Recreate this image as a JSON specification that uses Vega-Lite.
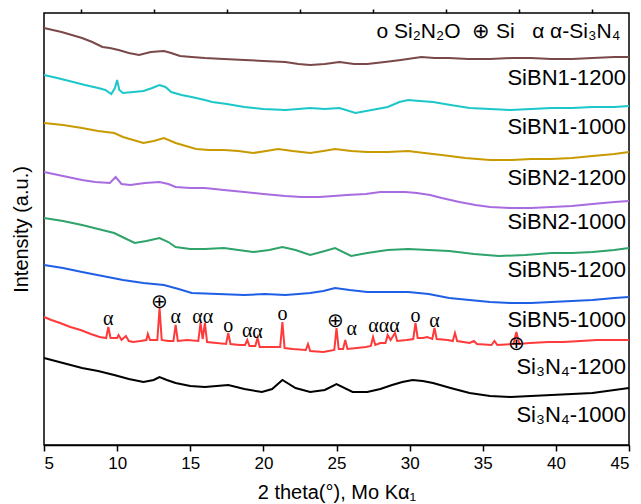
{
"$schema": "https://vega.github.io/schema/vega-lite/v6.json",
"width": 585, "height": 432,
"autosize": "none",
"padding": {"left": 44, "top": 13, "right": 12, "bottom": 59},
"background": "white",
"config": {"view": {"stroke": "black", "strokeWidth": 1.5}, "font": "Liberation Sans"},
"datasets": {
"curves": [
{"s":"SiBN1-1200","x":5.0,"y":422},{"s":"SiBN1-1200","x":5.6,"y":420},{"s":"SiBN1-1200","x":6.2,"y":418},{"s":"SiBN1-1200","x":6.9,"y":415},{"s":"SiBN1-1200","x":7.6,"y":412},{"s":"SiBN1-1200","x":8.3,"y":408},{"s":"SiBN1-1200","x":9.0,"y":403},{"s":"SiBN1-1200","x":9.5,"y":402},{"s":"SiBN1-1200","x":10.1,"y":400},{"s":"SiBN1-1200","x":10.8,"y":397},{"s":"SiBN1-1200","x":11.5,"y":395},{"s":"SiBN1-1200","x":12.3,"y":398},{"s":"SiBN1-1200","x":13.2,"y":399},{"s":"SiBN1-1200","x":13.7,"y":397},{"s":"SiBN1-1200","x":14.3,"y":394},{"s":"SiBN1-1200","x":15.1,"y":393},{"s":"SiBN1-1200","x":16.0,"y":392},{"s":"SiBN1-1200","x":17.3,"y":391},{"s":"SiBN1-1200","x":18.7,"y":390},{"s":"SiBN1-1200","x":20.0,"y":389},{"s":"SiBN1-1200","x":21.5,"y":388},{"s":"SiBN1-1200","x":22.4,"y":386},{"s":"SiBN1-1200","x":23.2,"y":385},{"s":"SiBN1-1200","x":24.2,"y":386},{"s":"SiBN1-1200","x":25.2,"y":388},{"s":"SiBN1-1200","x":26.2,"y":386},{"s":"SiBN1-1200","x":27.1,"y":386},{"s":"SiBN1-1200","x":28.3,"y":388},{"s":"SiBN1-1200","x":29.4,"y":390},{"s":"SiBN1-1200","x":30.8,"y":393},{"s":"SiBN1-1200","x":31.7,"y":392},{"s":"SiBN1-1200","x":32.7,"y":392},{"s":"SiBN1-1200","x":34.0,"y":391},{"s":"SiBN1-1200","x":35.5,"y":391},{"s":"SiBN1-1200","x":37.0,"y":392},{"s":"SiBN1-1200","x":38.3,"y":392},{"s":"SiBN1-1200","x":39.7,"y":391},{"s":"SiBN1-1200","x":41.1,"y":391},{"s":"SiBN1-1200","x":42.5,"y":392},{"s":"SiBN1-1200","x":44.0,"y":393},{"s":"SiBN1-1200","x":45.0,"y":393},
{"s":"SiBN1-1000","x":5.0,"y":375},{"s":"SiBN1-1000","x":5.9,"y":372},{"s":"SiBN1-1000","x":7.0,"y":368},{"s":"SiBN1-1000","x":7.8,"y":365},{"s":"SiBN1-1000","x":8.7,"y":362},{"s":"SiBN1-1000","x":9.2,"y":360},{"s":"SiBN1-1000","x":9.6,"y":356},{"s":"SiBN1-1000","x":9.85,"y":362},{"s":"SiBN1-1000","x":10.0,"y":370},{"s":"SiBN1-1000","x":10.15,"y":360},{"s":"SiBN1-1000","x":10.4,"y":357},{"s":"SiBN1-1000","x":11.1,"y":358},{"s":"SiBN1-1000","x":11.8,"y":359},{"s":"SiBN1-1000","x":12.4,"y":362},{"s":"SiBN1-1000","x":12.9,"y":365},{"s":"SiBN1-1000","x":13.3,"y":363},{"s":"SiBN1-1000","x":13.7,"y":358},{"s":"SiBN1-1000","x":14.4,"y":355},{"s":"SiBN1-1000","x":15.1,"y":353},{"s":"SiBN1-1000","x":16.0,"y":350},{"s":"SiBN1-1000","x":16.5,"y":348},{"s":"SiBN1-1000","x":17.5,"y":346},{"s":"SiBN1-1000","x":18.7,"y":343},{"s":"SiBN1-1000","x":20.0,"y":341},{"s":"SiBN1-1000","x":21.5,"y":340},{"s":"SiBN1-1000","x":22.4,"y":341},{"s":"SiBN1-1000","x":23.2,"y":342},{"s":"SiBN1-1000","x":24.2,"y":341},{"s":"SiBN1-1000","x":25.2,"y":342},{"s":"SiBN1-1000","x":26.3,"y":337},{"s":"SiBN1-1000","x":27.4,"y":340},{"s":"SiBN1-1000","x":28.5,"y":343},{"s":"SiBN1-1000","x":29.3,"y":348},{"s":"SiBN1-1000","x":29.9,"y":350},{"s":"SiBN1-1000","x":30.7,"y":349},{"s":"SiBN1-1000","x":31.6,"y":348},{"s":"SiBN1-1000","x":32.8,"y":345},{"s":"SiBN1-1000","x":34.1,"y":342},{"s":"SiBN1-1000","x":35.5,"y":341},{"s":"SiBN1-1000","x":36.9,"y":340},{"s":"SiBN1-1000","x":38.3,"y":341},{"s":"SiBN1-1000","x":39.7,"y":342},{"s":"SiBN1-1000","x":41.1,"y":342},{"s":"SiBN1-1000","x":42.5,"y":343},{"s":"SiBN1-1000","x":44.0,"y":343},{"s":"SiBN1-1000","x":45.0,"y":344},
{"s":"SiBN2-1200","x":5.0,"y":327},{"s":"SiBN2-1200","x":6.3,"y":325},{"s":"SiBN2-1200","x":7.6,"y":322},{"s":"SiBN2-1200","x":8.7,"y":319},{"s":"SiBN2-1200","x":9.8,"y":317},{"s":"SiBN2-1200","x":10.4,"y":313},{"s":"SiBN2-1200","x":11.1,"y":310},{"s":"SiBN2-1200","x":11.8,"y":307},{"s":"SiBN2-1200","x":12.5,"y":309},{"s":"SiBN2-1200","x":13.2,"y":312},{"s":"SiBN2-1200","x":14.0,"y":307},{"s":"SiBN2-1200","x":14.7,"y":304},{"s":"SiBN2-1200","x":15.4,"y":301},{"s":"SiBN2-1200","x":16.3,"y":300},{"s":"SiBN2-1200","x":17.3,"y":300},{"s":"SiBN2-1200","x":18.3,"y":299},{"s":"SiBN2-1200","x":19.3,"y":297},{"s":"SiBN2-1200","x":20.2,"y":299},{"s":"SiBN2-1200","x":21.0,"y":301},{"s":"SiBN2-1200","x":22.0,"y":299},{"s":"SiBN2-1200","x":23.2,"y":297},{"s":"SiBN2-1200","x":24.1,"y":299},{"s":"SiBN2-1200","x":24.9,"y":301},{"s":"SiBN2-1200","x":26.0,"y":299},{"s":"SiBN2-1200","x":27.1,"y":298},{"s":"SiBN2-1200","x":28.5,"y":298},{"s":"SiBN2-1200","x":29.9,"y":299},{"s":"SiBN2-1200","x":31.0,"y":297},{"s":"SiBN2-1200","x":32.2,"y":295},{"s":"SiBN2-1200","x":33.8,"y":292},{"s":"SiBN2-1200","x":35.5,"y":290},{"s":"SiBN2-1200","x":37.0,"y":290},{"s":"SiBN2-1200","x":38.3,"y":291},{"s":"SiBN2-1200","x":39.7,"y":291},{"s":"SiBN2-1200","x":41.1,"y":292},{"s":"SiBN2-1200","x":42.5,"y":294},{"s":"SiBN2-1200","x":44.0,"y":296},{"s":"SiBN2-1200","x":45.0,"y":298},
{"s":"SiBN2-1000","x":5.0,"y":278},{"s":"SiBN2-1000","x":6.3,"y":274},{"s":"SiBN2-1000","x":7.6,"y":270},{"s":"SiBN2-1000","x":8.5,"y":268},{"s":"SiBN2-1000","x":9.5,"y":267},{"s":"SiBN2-1000","x":9.9,"y":273},{"s":"SiBN2-1000","x":10.3,"y":266},{"s":"SiBN2-1000","x":10.9,"y":265},{"s":"SiBN2-1000","x":11.9,"y":267},{"s":"SiBN2-1000","x":12.9,"y":268},{"s":"SiBN2-1000","x":13.5,"y":266},{"s":"SiBN2-1000","x":14.0,"y":263},{"s":"SiBN2-1000","x":15.0,"y":262},{"s":"SiBN2-1000","x":16.0,"y":262},{"s":"SiBN2-1000","x":17.3,"y":260},{"s":"SiBN2-1000","x":18.7,"y":258},{"s":"SiBN2-1000","x":20.0,"y":256},{"s":"SiBN2-1000","x":21.5,"y":254},{"s":"SiBN2-1000","x":22.6,"y":253},{"s":"SiBN2-1000","x":23.8,"y":253},{"s":"SiBN2-1000","x":24.8,"y":254},{"s":"SiBN2-1000","x":25.7,"y":255},{"s":"SiBN2-1000","x":27.0,"y":256},{"s":"SiBN2-1000","x":28.0,"y":258},{"s":"SiBN2-1000","x":28.8,"y":258},{"s":"SiBN2-1000","x":29.7,"y":258},{"s":"SiBN2-1000","x":30.5,"y":257},{"s":"SiBN2-1000","x":31.4,"y":255},{"s":"SiBN2-1000","x":32.2,"y":252},{"s":"SiBN2-1000","x":33.4,"y":248},{"s":"SiBN2-1000","x":34.5,"y":245},{"s":"SiBN2-1000","x":35.5,"y":243},{"s":"SiBN2-1000","x":36.9,"y":242},{"s":"SiBN2-1000","x":38.3,"y":242},{"s":"SiBN2-1000","x":39.7,"y":243},{"s":"SiBN2-1000","x":41.1,"y":244},{"s":"SiBN2-1000","x":42.5,"y":246},{"s":"SiBN2-1000","x":44.0,"y":248},{"s":"SiBN2-1000","x":45.0,"y":249},
{"s":"SiBN5-1200","x":5.0,"y":232},{"s":"SiBN5-1200","x":6.3,"y":229},{"s":"SiBN5-1200","x":7.6,"y":225},{"s":"SiBN5-1200","x":8.7,"y":221},{"s":"SiBN5-1200","x":9.8,"y":217},{"s":"SiBN5-1200","x":10.5,"y":212},{"s":"SiBN5-1200","x":11.2,"y":207},{"s":"SiBN5-1200","x":12.0,"y":209},{"s":"SiBN5-1200","x":12.9,"y":212},{"s":"SiBN5-1200","x":13.5,"y":208},{"s":"SiBN5-1200","x":14.0,"y":203},{"s":"SiBN5-1200","x":15.0,"y":201},{"s":"SiBN5-1200","x":16.0,"y":201},{"s":"SiBN5-1200","x":17.3,"y":202},{"s":"SiBN5-1200","x":18.3,"y":200},{"s":"SiBN5-1200","x":19.3,"y":198},{"s":"SiBN5-1200","x":20.4,"y":200},{"s":"SiBN5-1200","x":21.3,"y":203},{"s":"SiBN5-1200","x":22.2,"y":200},{"s":"SiBN5-1200","x":23.2,"y":195},{"s":"SiBN5-1200","x":24.2,"y":199},{"s":"SiBN5-1200","x":24.9,"y":202},{"s":"SiBN5-1200","x":26.0,"y":194},{"s":"SiBN5-1200","x":27.1,"y":197},{"s":"SiBN5-1200","x":28.5,"y":200},{"s":"SiBN5-1200","x":29.9,"y":201},{"s":"SiBN5-1200","x":31.3,"y":200},{"s":"SiBN5-1200","x":32.7,"y":199},{"s":"SiBN5-1200","x":34.4,"y":196},{"s":"SiBN5-1200","x":36.1,"y":194},{"s":"SiBN5-1200","x":37.9,"y":195},{"s":"SiBN5-1200","x":39.7,"y":197},{"s":"SiBN5-1200","x":41.1,"y":197},{"s":"SiBN5-1200","x":42.5,"y":198},{"s":"SiBN5-1200","x":44.0,"y":200},{"s":"SiBN5-1200","x":45.0,"y":202},
{"s":"SiBN5-1000","x":5.0,"y":185},{"s":"SiBN5-1000","x":6.3,"y":182},{"s":"SiBN5-1000","x":7.6,"y":178},{"s":"SiBN5-1000","x":9.0,"y":174},{"s":"SiBN5-1000","x":10.4,"y":170},{"s":"SiBN5-1000","x":11.8,"y":167},{"s":"SiBN5-1000","x":13.2,"y":165},{"s":"SiBN5-1000","x":14.2,"y":161},{"s":"SiBN5-1000","x":15.1,"y":157},{"s":"SiBN5-1000","x":16.9,"y":156},{"s":"SiBN5-1000","x":18.7,"y":155},{"s":"SiBN5-1000","x":20.1,"y":156},{"s":"SiBN5-1000","x":21.5,"y":155},{"s":"SiBN5-1000","x":22.4,"y":156},{"s":"SiBN5-1000","x":23.2,"y":157},{"s":"SiBN5-1000","x":24.1,"y":159},{"s":"SiBN5-1000","x":24.9,"y":162},{"s":"SiBN5-1000","x":25.9,"y":160},{"s":"SiBN5-1000","x":27.1,"y":158},{"s":"SiBN5-1000","x":28.5,"y":158},{"s":"SiBN5-1000","x":29.9,"y":158},{"s":"SiBN5-1000","x":31.3,"y":156},{"s":"SiBN5-1000","x":32.7,"y":152},{"s":"SiBN5-1000","x":34.1,"y":150},{"s":"SiBN5-1000","x":35.5,"y":148},{"s":"SiBN5-1000","x":36.9,"y":147},{"s":"SiBN5-1000","x":38.3,"y":147},{"s":"SiBN5-1000","x":39.7,"y":148},{"s":"SiBN5-1000","x":41.1,"y":149},{"s":"SiBN5-1000","x":42.5,"y":150},{"s":"SiBN5-1000","x":44.0,"y":152},{"s":"SiBN5-1000","x":45.0,"y":153},
{"s":"Si3N4-1200","x":5.0,"y":133},{"s":"Si3N4-1200","x":5.5,"y":130},{"s":"Si3N4-1200","x":6.1,"y":127},{"s":"Si3N4-1200","x":6.8,"y":123},{"s":"Si3N4-1200","x":7.5,"y":120},{"s":"Si3N4-1200","x":8.2,"y":116},{"s":"Si3N4-1200","x":8.8,"y":113},{"s":"Si3N4-1200","x":9.25,"y":112},{"s":"Si3N4-1200","x":9.4,"y":123},{"s":"Si3N4-1200","x":9.55,"y":112},{"s":"Si3N4-1200","x":10.0,"y":112},{"s":"Si3N4-1200","x":10.1,"y":115},{"s":"Si3N4-1200","x":10.3,"y":110},{"s":"Si3N4-1200","x":10.6,"y":114},{"s":"Si3N4-1200","x":10.8,"y":109},{"s":"Si3N4-1200","x":11.1,"y":108},{"s":"Si3N4-1200","x":11.6,"y":109},{"s":"Si3N4-1200","x":12.0,"y":110},{"s":"Si3N4-1200","x":12.1,"y":116},{"s":"Si3N4-1200","x":12.25,"y":110},{"s":"Si3N4-1200","x":12.75,"y":110},{"s":"Si3N4-1200","x":12.9,"y":142},{"s":"Si3N4-1200","x":13.05,"y":110},{"s":"Si3N4-1200","x":13.5,"y":109},{"s":"Si3N4-1200","x":13.85,"y":109},{"s":"Si3N4-1200","x":14.0,"y":125},{"s":"Si3N4-1200","x":14.15,"y":109},{"s":"Si3N4-1200","x":14.8,"y":110},{"s":"Si3N4-1200","x":15.55,"y":109},{"s":"Si3N4-1200","x":15.7,"y":127},{"s":"Si3N4-1200","x":15.85,"y":111},{"s":"Si3N4-1200","x":16.0,"y":127},{"s":"Si3N4-1200","x":16.15,"y":108},{"s":"Si3N4-1200","x":16.8,"y":107},{"s":"Si3N4-1200","x":17.45,"y":106},{"s":"Si3N4-1200","x":17.6,"y":117},{"s":"Si3N4-1200","x":17.75,"y":106},{"s":"Si3N4-1200","x":18.4,"y":105},{"s":"Si3N4-1200","x":18.75,"y":105},{"s":"Si3N4-1200","x":18.9,"y":110},{"s":"Si3N4-1200","x":19.05,"y":104},{"s":"Si3N4-1200","x":19.45,"y":104},{"s":"Si3N4-1200","x":19.6,"y":112},{"s":"Si3N4-1200","x":19.75,"y":103},{"s":"Si3N4-1200","x":20.5,"y":103},{"s":"Si3N4-1200","x":21.15,"y":103},{"s":"Si3N4-1200","x":21.3,"y":128},{"s":"Si3N4-1200","x":21.45,"y":102},{"s":"Si3N4-1200","x":22.0,"y":101},{"s":"Si3N4-1200","x":22.9,"y":100},{"s":"Si3N4-1200","x":23.05,"y":106},{"s":"Si3N4-1200","x":23.2,"y":99},{"s":"Si3N4-1200","x":24.1,"y":98},{"s":"Si3N4-1200","x":24.85,"y":100},{"s":"Si3N4-1200","x":25.0,"y":122},{"s":"Si3N4-1200","x":25.15,"y":101},{"s":"Si3N4-1200","x":25.45,"y":101},{"s":"Si3N4-1200","x":25.6,"y":110},{"s":"Si3N4-1200","x":25.75,"y":101},{"s":"Si3N4-1200","x":26.4,"y":102},{"s":"Si3N4-1200","x":27.0,"y":103},{"s":"Si3N4-1200","x":27.35,"y":104},{"s":"Si3N4-1200","x":27.5,"y":113},{"s":"Si3N4-1200","x":27.65,"y":105},{"s":"Si3N4-1200","x":28.0,"y":107},{"s":"Si3N4-1200","x":28.35,"y":107},{"s":"Si3N4-1200","x":28.5,"y":115},{"s":"Si3N4-1200","x":28.7,"y":110},{"s":"Si3N4-1200","x":29.0,"y":117},{"s":"Si3N4-1200","x":29.15,"y":109},{"s":"Si3N4-1200","x":29.8,"y":110},{"s":"Si3N4-1200","x":30.25,"y":111},{"s":"Si3N4-1200","x":30.4,"y":127},{"s":"Si3N4-1200","x":30.55,"y":112},{"s":"Si3N4-1200","x":30.9,"y":112},{"s":"Si3N4-1200","x":31.2,"y":113},{"s":"Si3N4-1200","x":31.55,"y":111},{"s":"Si3N4-1200","x":31.7,"y":122},{"s":"Si3N4-1200","x":31.85,"y":111},{"s":"Si3N4-1200","x":32.6,"y":110},{"s":"Si3N4-1200","x":32.95,"y":109},{"s":"Si3N4-1200","x":33.1,"y":117},{"s":"Si3N4-1200","x":33.25,"y":109},{"s":"Si3N4-1200","x":34.1,"y":107},{"s":"Si3N4-1200","x":34.4,"y":109},{"s":"Si3N4-1200","x":34.6,"y":106},{"s":"Si3N4-1200","x":35.6,"y":105},{"s":"Si3N4-1200","x":35.8,"y":109},{"s":"Si3N4-1200","x":36.0,"y":105},{"s":"Si3N4-1200","x":37.1,"y":106},{"s":"Si3N4-1200","x":37.3,"y":118},{"s":"Si3N4-1200","x":37.5,"y":106},{"s":"Si3N4-1200","x":38.2,"y":107},{"s":"Si3N4-1200","x":39.5,"y":108},{"s":"Si3N4-1200","x":40.5,"y":108},{"s":"Si3N4-1200","x":41.7,"y":109},{"s":"Si3N4-1200","x":42.8,"y":110},{"s":"Si3N4-1200","x":44.0,"y":110},{"s":"Si3N4-1200","x":45.0,"y":110},
{"s":"Si3N4-1000","x":5.0,"y":92},{"s":"Si3N4-1000","x":6.3,"y":87},{"s":"Si3N4-1000","x":7.6,"y":82},{"s":"Si3N4-1000","x":8.7,"y":79},{"s":"Si3N4-1000","x":9.8,"y":75},{"s":"Si3N4-1000","x":10.8,"y":71},{"s":"Si3N4-1000","x":11.8,"y":68},{"s":"Si3N4-1000","x":12.5,"y":70},{"s":"Si3N4-1000","x":12.9,"y":73},{"s":"Si3N4-1000","x":13.4,"y":70},{"s":"Si3N4-1000","x":14.0,"y":67},{"s":"Si3N4-1000","x":15.0,"y":64},{"s":"Si3N4-1000","x":16.0,"y":63},{"s":"Si3N4-1000","x":16.8,"y":64},{"s":"Si3N4-1000","x":17.6,"y":65},{"s":"Si3N4-1000","x":18.7,"y":61},{"s":"Si3N4-1000","x":19.9,"y":58},{"s":"Si3N4-1000","x":20.6,"y":61},{"s":"Si3N4-1000","x":21.3,"y":70},{"s":"Si3N4-1000","x":22.2,"y":62},{"s":"Si3N4-1000","x":23.2,"y":58},{"s":"Si3N4-1000","x":24.2,"y":60},{"s":"Si3N4-1000","x":25.0,"y":66},{"s":"Si3N4-1000","x":26.1,"y":58},{"s":"Si3N4-1000","x":27.1,"y":58},{"s":"Si3N4-1000","x":28.0,"y":61},{"s":"Si3N4-1000","x":28.8,"y":65},{"s":"Si3N4-1000","x":29.5,"y":68},{"s":"Si3N4-1000","x":30.2,"y":70},{"s":"Si3N4-1000","x":30.9,"y":69},{"s":"Si3N4-1000","x":31.6,"y":67},{"s":"Si3N4-1000","x":32.8,"y":62},{"s":"Si3N4-1000","x":34.1,"y":57},{"s":"Si3N4-1000","x":35.5,"y":54},{"s":"Si3N4-1000","x":36.9,"y":53},{"s":"Si3N4-1000","x":38.3,"y":54},{"s":"Si3N4-1000","x":39.7,"y":55},{"s":"Si3N4-1000","x":41.1,"y":56},{"s":"Si3N4-1000","x":42.5,"y":57},{"s":"Si3N4-1000","x":44.0,"y":60},{"s":"Si3N4-1000","x":45.0,"y":62}
],
"names": [
{"t":"SiBN1-1200","x":44.8,"y":372},{"t":"SiBN1-1000","x":44.8,"y":323},{"t":"SiBN2-1200","x":44.8,"y":272},{"t":"SiBN2-1000","x":44.8,"y":228},{"t":"SiBN5-1200","x":44.8,"y":180},{"t":"SiBN5-1000","x":44.8,"y":130},{"t":"Si₃N₄-1200","x":44.8,"y":83},{"t":"Si₃N₄-1000","x":44.8,"y":35}
],
"marks": [
{"t":"α","x":9.4,"y":131},{"t":"⊕","x":12.9,"y":148},{"t":"α","x":14.0,"y":133},{"t":"αα","x":15.85,"y":133},{"t":"o","x":17.6,"y":124},{"t":"α","x":18.9,"y":119},{"t":"α","x":19.6,"y":118},{"t":"o","x":21.3,"y":136},{"t":"⊕","x":24.95,"y":129},{"t":"α","x":26.05,"y":121},{"t":"ααα","x":28.25,"y":124},{"t":"o","x":30.4,"y":134},{"t":"α","x":31.7,"y":129},{"t":"⊕","x":37.3,"y":106}
],
"key": [{"t":"o Si₂N₂O\u00a0\u00a0⊕ Si\u00a0\u00a0\u00a0α α-Si₃N₄","x":44.4,"y":418}]
},
"resolve": {"axis": {"x": "independent", "y": "independent"}},
"layer": [
{
"data": {"name": "curves"},
"mark": {"type": "line", "strokeWidth": 2, "interpolate": "linear"},
"encoding": {
"x": {"field": "x", "type": "quantitative", "scale": {"domain": [5, 45], "nice": false, "zero": false},
"axis": {"values": [5,10,15,20,25,30,35,40,45], "title": "2 theta(°), Mo Kα₁", "grid": false, "tickSize": 6, "tickColor": "black", "tickWidth": 1.5, "domainColor": "black", "domainWidth": 1.5, "labelFontSize": 17, "labelColor": "black", "labelFont": "Liberation Sans", "labelPadding": 4, "titleFont": "Liberation Sans", "titleFontSize": 20, "titleFontWeight": "normal", "titleColor": "black", "titleBaseline": "alphabetic", "titleY": 53}},
"y": {"field": "y", "type": "quantitative", "scale": {"domain": [5, 437], "nice": false, "zero": false},
"axis": {"title": "Intensity (a.u.)", "labels": false, "ticks": false, "domain": false, "grid": false, "titleFont": "Liberation Sans", "titleFontSize": 20, "titleFontWeight": "normal", "titleColor": "black", "titleBaseline": "alphabetic", "titleX": -17, "titleY": 216, "titleAlign": "center", "titleAngle": -90}},
"color": {"field": "s", "type": "nominal", "legend": null,
"scale": {"domain": ["SiBN1-1200","SiBN1-1000","SiBN2-1200","SiBN2-1000","SiBN5-1200","SiBN5-1000","Si3N4-1200","Si3N4-1000"],
"range": ["#7a4848","#1cc7c9","#c89a00","#a86be0","#2ea36a","#1f5fe6","#ff3a3a","#000000"]}}
}
},
{
"data": {"name": "names"},
"mark": {"type": "text", "align": "right", "baseline": "middle", "fontSize": 22, "font": "Liberation Sans", "color": "black"},
"encoding": {
"x": {"field": "x", "type": "quantitative", "axis": {"values": [7.5,12.5,17.5,22.5,27.5,32.5,37.5,42.5], "labels": false, "title": null, "domain": false, "grid": false, "tickSize": 4, "tickColor": "black", "tickWidth": 1.5}},
"y": {"field": "y", "type": "quantitative", "axis": null},
"text": {"field": "t"}
}
},
{
"data": {"name": "marks"},
"mark": {"type": "text", "align": "center", "baseline": "middle", "fontSize": 20, "font": "Liberation Serif", "color": "black"},
"encoding": {
"x": {"field": "x", "type": "quantitative", "axis": null},
"y": {"field": "y", "type": "quantitative", "axis": null},
"text": {"field": "t"}
}
},
{
"data": {"name": "key"},
"mark": {"type": "text", "align": "right", "baseline": "middle", "fontSize": 21, "font": "Liberation Sans", "color": "black"},
"encoding": {
"x": {"field": "x", "type": "quantitative", "axis": null},
"y": {"field": "y", "type": "quantitative", "axis": null},
"text": {"field": "t"}
}
}
]
}
